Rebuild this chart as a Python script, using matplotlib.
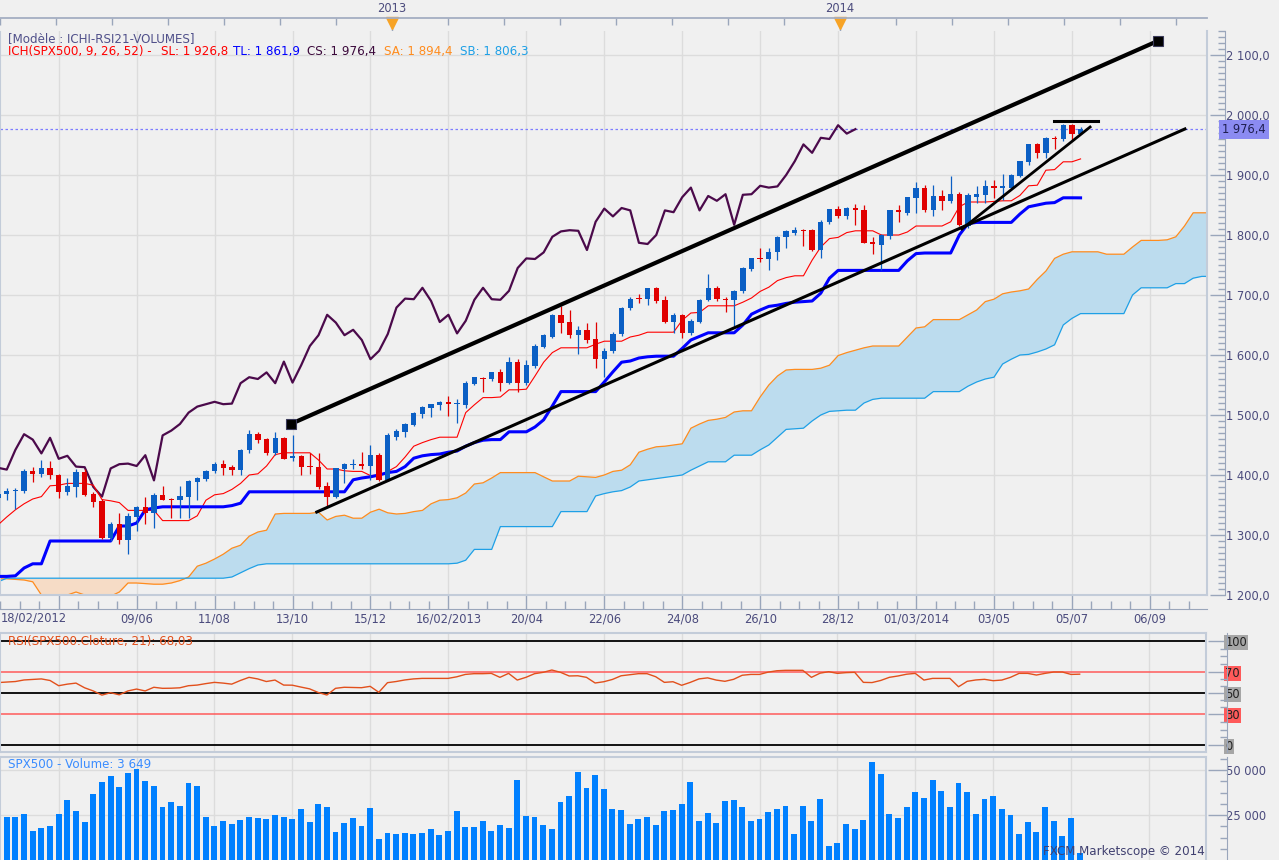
import numpy as np
import matplotlib.pyplot as plt
from matplotlib.ticker import FixedLocator

# weekly bars, week 0 = 18/02/2012 (SPX500 CFD, FXCM)
opens = [1362, 1368, 1373, 1374, 1407, 1402, 1411, 1400, 1372, 1380,
         1405, 1368, 1357, 1295.5, 1318, 1292, 1330, 1347, 1336, 1367,
         1360, 1358, 1364, 1389, 1394, 1407, 1419, 1414, 1409, 1442,
         1468, 1460, 1436, 1462, 1428, 1432, 1415, 1413, 1382, 1364,
         1410, 1417, 1419, 1415, 1433, 1391, 1464, 1472, 1483, 1502,
         1512, 1517, 1522, 1518, 1517, 1552, 1562, 1560, 1572, 1553,
         1589, 1554, 1582, 1614, 1630, 1667, 1655, 1633, 1642, 1627,
         1593, 1607, 1635, 1678, 1694, 1693, 1712, 1692, 1655, 1667,
         1636, 1655, 1692, 1712, 1694, 1692, 1706, 1743, 1761, 1760,
         1771, 1796, 1804, 1808, 1808, 1775, 1821, 1844, 1832, 1845,
         1842, 1789, 1784, 1798, 1841, 1837, 1862, 1879, 1841, 1865,
         1857, 1868, 1815, 1864, 1867, 1882, 1879, 1879, 1898, 1922,
         1951, 1937, 1962, 1960, 1983, 1969]
highs = [1372, 1378, 1378, 1410, 1414, 1425, 1424, 1402, 1395, 1410,
         1410, 1372, 1360, 1321, 1336, 1336, 1348, 1364, 1370, 1382,
         1362, 1382, 1391, 1397, 1408, 1422, 1425, 1416, 1444, 1475,
         1471, 1462, 1472, 1464, 1467, 1434, 1436, 1437, 1389, 1412,
         1420, 1427, 1439, 1450, 1436, 1470, 1476, 1486, 1505, 1515,
         1519, 1524, 1532, 1527, 1557, 1564, 1564, 1572, 1576, 1597,
         1593, 1592, 1618, 1635, 1668, 1682, 1675, 1648, 1653, 1655,
         1612, 1638, 1680, 1696, 1702, 1712, 1714, 1698, 1670, 1669,
         1660, 1693, 1735, 1715, 1697, 1709, 1746, 1761, 1778, 1778,
         1799, 1808, 1814, 1810, 1810, 1825, 1844, 1848, 1846, 1852,
         1850, 1796, 1802, 1841, 1850, 1864, 1889, 1883, 1883, 1875,
         1898, 1871, 1870, 1882, 1891, 1891, 1902, 1901, 1924, 1951,
         1954, 1963, 1965, 1985, 1985, 1980]
lows = [1355, 1358, 1344, 1370, 1389, 1396, 1393, 1361, 1367, 1363,
        1365, 1346, 1293, 1290, 1285, 1268, 1307, 1319, 1312, 1358,
        1328, 1328, 1328, 1358, 1390, 1404, 1400, 1400, 1400, 1437,
        1453, 1434, 1434, 1426, 1424, 1400, 1402, 1377, 1347, 1362,
        1386, 1410, 1410, 1392, 1390, 1390, 1458, 1464, 1481, 1495,
        1497, 1509, 1498, 1486, 1511, 1550, 1539, 1556, 1540, 1551,
        1539, 1550, 1578, 1612, 1628, 1637, 1628, 1601, 1620, 1579,
        1563, 1603, 1632, 1675, 1686, 1684, 1687, 1654, 1637, 1629,
        1634, 1654, 1690, 1690, 1672, 1649, 1704, 1740, 1755, 1742,
        1759, 1779, 1800, 1782, 1774, 1762, 1819, 1828, 1826, 1817,
        1786, 1768, 1741, 1794, 1822, 1834, 1836, 1838, 1832, 1842,
        1853, 1815, 1812, 1853, 1853, 1861, 1858, 1876, 1896, 1916,
        1928, 1929, 1944, 1956, 1956, 1968]
closes = [1368, 1373, 1375, 1407, 1402, 1411, 1400, 1372, 1382, 1405,
          1367, 1355, 1295.5, 1318, 1292, 1332, 1347, 1336, 1367, 1358,
          1359, 1365, 1390, 1395, 1407, 1419, 1412, 1409, 1442, 1468,
          1459, 1436, 1462, 1427, 1432, 1414, 1413, 1380, 1364, 1411,
          1418, 1419, 1415, 1433, 1391, 1466, 1474, 1485, 1504, 1514,
          1518, 1522, 1518, 1519, 1553, 1563, 1560, 1571, 1553, 1589,
          1554, 1583, 1615, 1633, 1667, 1654, 1633, 1642, 1625, 1593,
          1607, 1635, 1679, 1694, 1693, 1712, 1690, 1655, 1667, 1636,
          1657, 1692, 1712, 1693, 1692, 1707, 1745, 1761, 1760, 1771,
          1797, 1806, 1808, 1807, 1775, 1822, 1844, 1831, 1845, 1841,
          1787, 1785, 1800, 1841, 1838, 1863, 1879, 1841, 1865, 1857,
          1868, 1817, 1867, 1868, 1882, 1879, 1881, 1900, 1923, 1951,
          1937, 1962, 1960, 1983, 1969, 1976.4]

# ichimoku lines
tenkan = [1317, 1330, 1342, 1352, 1360, 1364, 1382, 1383, 1386, 1386,
          1386, 1383, 1359, 1357, 1354, 1341, 1341, 1341, 1341, 1324,
          1324, 1324, 1324, 1332, 1358, 1367, 1369, 1376, 1386, 1400,
          1402, 1415, 1434, 1437, 1437, 1437, 1437, 1425, 1410, 1410,
          1407, 1406, 1406, 1399, 1400, 1406, 1414, 1430, 1448, 1454,
          1459, 1463, 1463, 1463, 1504, 1517, 1529, 1529, 1530, 1542,
          1542, 1543, 1565, 1588, 1604, 1612, 1612, 1612, 1612, 1618,
          1623, 1623, 1623, 1630, 1633, 1638, 1638, 1638, 1638, 1658,
          1670, 1671, 1682, 1682, 1682, 1682, 1688, 1695, 1706, 1713,
          1724, 1729, 1732, 1732, 1758, 1780, 1794, 1796, 1804, 1807,
          1807, 1807, 1800, 1800, 1800, 1805, 1815, 1815, 1815, 1815,
          1822, 1847, 1855, 1855, 1855, 1856, 1857, 1857, 1866, 1882,
          1883, 1908, 1909, 1922, 1922, 1926.8]
kijun = [1231, 1231, 1232, 1245, 1252, 1252, 1290, 1290, 1290, 1290,
         1290, 1290, 1290, 1290, 1315, 1315, 1320, 1342, 1345, 1347,
         1347, 1347, 1347, 1347, 1347, 1347, 1347, 1349, 1353, 1372,
         1372, 1372, 1372, 1372, 1372, 1372, 1372, 1372, 1372, 1372,
         1372, 1392, 1395, 1397, 1400, 1404, 1406, 1414, 1428, 1432,
         1434, 1435, 1438, 1440, 1448, 1454, 1458, 1459, 1459, 1472,
         1472, 1472, 1480, 1492, 1515, 1539, 1539, 1539, 1539, 1539,
         1555, 1572, 1588, 1590, 1595, 1597, 1598, 1598, 1598, 1611,
         1625, 1631, 1637, 1637, 1637, 1637, 1650, 1668, 1675, 1681,
         1683, 1686, 1688, 1689, 1690, 1703, 1728, 1741, 1741, 1741,
         1741, 1741, 1741, 1741, 1741, 1757, 1769, 1770, 1770, 1770,
         1770, 1800, 1819, 1821, 1821, 1821, 1821, 1821, 1835, 1847,
         1850, 1853, 1854, 1862, 1862, 1861.9]
senkou_a = [1227, 1227, 1226, 1225, 1222, 1200, 1195, 1195, 1200, 1205,
            1200, 1195, 1195, 1198, 1205, 1220, 1220, 1219, 1218, 1218,
            1220, 1224, 1230, 1248, 1253, 1260, 1268, 1278, 1283, 1298,
            1305, 1308, 1335, 1336, 1336, 1336, 1336, 1338, 1325, 1331,
            1333, 1328, 1328, 1338, 1343, 1337, 1335, 1336, 1339, 1341,
            1352, 1358, 1359, 1362, 1370, 1385, 1387, 1395, 1404, 1404,
            1404, 1404, 1404, 1397, 1390, 1390, 1390, 1398, 1397, 1396,
            1400, 1406, 1408, 1417, 1438, 1443, 1447, 1448, 1450, 1452,
            1478, 1485, 1491, 1493, 1496, 1505, 1507, 1507, 1530, 1550,
            1565, 1575, 1576, 1576, 1576, 1578, 1583, 1599, 1604, 1608,
            1612, 1615, 1615, 1615, 1615, 1630, 1645, 1647, 1659, 1659,
            1659, 1659, 1667, 1675, 1689, 1693, 1702, 1705, 1707, 1710,
            1726, 1740, 1761, 1768, 1772, 1772, 1772, 1772, 1768, 1768,
            1768, 1780, 1791, 1791, 1791, 1792, 1797, 1815, 1837, 1837,
            1837]
senkou_b = [1222, 1228, 1228, 1228, 1228, 1228, 1228, 1228, 1228, 1228,
            1228, 1228, 1228, 1228, 1228, 1228, 1228, 1228, 1228, 1228,
            1228, 1228, 1228, 1228, 1228, 1228, 1228, 1230, 1237, 1244,
            1250, 1252, 1252, 1252, 1252, 1252, 1252, 1252, 1252, 1252,
            1252, 1252, 1252, 1252, 1252, 1252, 1252, 1252, 1252, 1252,
            1252, 1252, 1252, 1253, 1258, 1276, 1276, 1276, 1314, 1314,
            1314, 1314, 1314, 1314, 1314, 1339, 1339, 1339, 1339, 1365,
            1369, 1372, 1374, 1380, 1390, 1392, 1394, 1396, 1398, 1400,
            1408, 1415, 1422, 1422, 1422, 1433, 1433, 1433, 1442, 1450,
            1463, 1476, 1477, 1478, 1490, 1500, 1506, 1507, 1508, 1508,
            1520, 1526, 1528, 1528, 1528, 1528, 1528, 1528, 1539, 1539,
            1539, 1539, 1548, 1555, 1560, 1563, 1585, 1593, 1600, 1601,
            1605, 1610, 1617, 1650, 1661, 1669, 1669, 1669, 1669, 1669,
            1669, 1700, 1712, 1712, 1712, 1712, 1719, 1719, 1728, 1731,
            1731]

rsi = [60, 60.5, 61, 62.5, 63, 63.5, 62, 57, 58.5, 59.5,
       55, 52, 48, 50.3, 48.3, 52, 53.8, 52, 55.5, 54.5,
       54.6, 55, 57, 57.6, 59, 60.2, 59.5, 58.5, 62, 65,
       63.5, 61, 62.4, 57.6, 57.5, 55.7, 54, 50.5, 48.1, 54.5,
       55.5, 55.3, 55.1, 56.4, 50.7, 59.9, 61, 62.5, 63.5, 64,
       64, 64, 64, 65.5, 67.8, 68.5, 68.5, 68.8, 65, 68.8,
       62.4, 65, 68.5, 69.8, 72, 69.8, 66.3, 66.5, 65, 59.6,
       60.8, 63, 66.5, 67.5, 68.5, 68.5, 65.6, 60.2, 60.8, 57.4,
       60.2, 63.5, 64.5, 62.4, 61.2, 63.1, 67, 67.8, 67.8, 70,
       71.3, 71.7, 71.7, 71.7, 65, 69, 70.4, 68.8, 69.5, 69.8,
       60.2, 60, 62, 65, 66.3, 68, 68.8, 62.4, 64, 64,
       64, 56, 61.2, 62.5, 63.1, 61.8, 62.4, 65, 68.8, 68.8,
       67.2, 68.8, 70.1, 70.1, 67.8, 68.03]

volume = [18333, 23889, 23889, 25556, 16111, 17778, 18889, 25556, 33333, 27222,
          21111, 36667, 43333, 46667, 40556, 48333, 50556, 43889, 41111, 29444,
          32222, 30000, 42778, 41111, 23889, 18889, 21667, 20000, 22222, 23889,
          23333, 22778, 25000, 23889, 22778, 28333, 21111, 31111, 29444, 15556,
          20556, 23333, 18889, 28889, 11667, 15000, 14444, 15000, 14444, 15000,
          17222, 13889, 16111, 27222, 18333, 18333, 21667, 16111, 19444, 17778,
          44444, 24444, 23889, 19444, 17222, 32222, 35556, 48889, 40000, 47222,
          39444, 28333, 27778, 20000, 22778, 23889, 19444, 27222, 27778, 31111,
          43333, 21667, 26111, 20556, 32778, 33333, 29444, 21667, 22778, 26667,
          28333, 30000, 14444, 30000, 21667, 33889, 7778, 9444, 20000, 17222,
          22222, 54444, 47778, 25556, 23333, 29444, 37778, 34444, 44444, 38333,
          29444, 42778, 37778, 25556, 33889, 35556, 28333, 25000, 14444, 21111,
          15556, 29444, 21667, 13333, 23333, 3649]

date_ticks = [7, 16, 25, 34, 43, 52, 61, 70, 79, 88, 97, 106, 115, 124, 133]
date_labels = ['', '09/06', '11/08', '13/10', '15/12', '16/02/2013', '20/04',
               '22/06', '24/08', '26/10', '28/12', '01/03/2014', '03/05',
               '05/07', '06/09']
price_ticks = [1200, 1300, 1400, 1500, 1600, 1700, 1800, 1900, 2000, 2100]
price_labels = ['1 200,0', '1 300,0', '1 400,0', '1 500,0', '1 600,0',
                '1 700,0', '1 800,0', '1 900,0', '2 000,0', '2 100,0']
year_weeks = [45, 97]
year_labels = ['2013', '2014']

# drawn trend lines (week, price)
channel_top = ([33.8, 133.9], [1485, 2123.3])
channel_low = ([36.8, 137.05], [1338.3, 1976.7])
steep_line = ([111.3, 126.1], [1810, 1980])
flat_line = ([121.9, 127.0], [1990.5, 1990.5])
last_price = 1976.4

BG = '#f0f0f0'
GRID = '#dcdcdc'
BORDER = '#c3ccd9'
TICKC = '#9aa6bb'
TXT = '#4b4b7d'
FS = 8.3
HFS = 8.6
W, H = 1279, 860
XL = (0.22, 139.6)

o = np.array(opens, float)
h = np.array(highs, float)
l = np.array(lows, float)
c = np.array(closes, float)
wk = np.arange(len(c))
sa = np.array(senkou_a, float)
sb = np.array(senkou_b, float)
cx = np.arange(len(sa))

fig = plt.figure(figsize=(W / 100, H / 100), dpi=100, facecolor=BG)


def px_axes(x0, y0, x1, y1):
    return fig.add_axes([x0 / W, 1 - y1 / H, (x1 - x0) / W, (y1 - y0) / H])


ax = px_axes(0, 31, 1207, 595.3)
rax = px_axes(0, 633, 1206, 751.7)
vax = px_axes(0, 756.7, 1206, 860)
tax = px_axes(0, 18, 1207, 31)

# ---------- main price pane ----------
ax.set_facecolor(BG)
ax.set_xlim(*XL)
ax.set_ylim(1199.5, 2140)
for xv in date_ticks:
    ax.axvline(xv, color=GRID, lw=1, zorder=0)
for yv in price_ticks:
    ax.axhline(yv, color=GRID, lw=1, zorder=0)

ax.fill_between(cx, sa, sb, where=sa >= sb, interpolate=True,
                color='#bcdcee', lw=0, zorder=1)
ax.fill_between(cx, sa, sb, where=sa < sb, interpolate=True,
                color='#f6dcc6', lw=0, zorder=1)
ax.plot(cx, sa, color='#ff8c1e', lw=0.9, zorder=2)
ax.plot(cx, sb, color='#1ea0e6', lw=0.9, zorder=2)

ax.axhline(last_price, color='#7c7cff', lw=0.9, ls=(0, (2, 2)), zorder=2)

ax.plot(wk[26:] - 26, c[26:], color='#4b0a4b', lw=1.6, zorder=3)
ax.plot(wk, tenkan, color='#ff0000', lw=0.8, zorder=3)
ax.plot(wk, kijun, color='#0000ff', lw=2.2, zorder=3)

up = c >= o
cols = np.where(up, '#0b5fc4', '#e00000')
ax.vlines(wk, l, h, colors=cols, lw=0.9, zorder=4)
body = np.maximum(np.abs(c - o), 1.6)
ax.bar(wk, body, bottom=np.minimum(o, c), width=0.62, color=cols, lw=0, zorder=5)

ax.plot(*channel_top, color='black', lw=3.0, zorder=6,
        solid_capstyle='butt')
ax.plot(*channel_top, ls='none', marker='s', ms=7, mfc='black',
        mec='#3a3a5a', mew=0.8, zorder=7)
ax.plot(*channel_low, color='black', lw=2.2, zorder=6)
ax.plot(*steep_line, color='black', lw=2.0, zorder=6)
ax.plot(*flat_line, color='black', lw=2.2, zorder=6)

ax.spines['top'].set_visible(False)
ax.spines['left'].set_color(BORDER)
ax.spines['right'].set_position(('outward', 13))
ax.spines['right'].set_color(TICKC)
ax.spines['bottom'].set_position(('outward', 10))
ax.spines['bottom'].set_color(TICKC)
ax.plot([1, 1], [0, 1], transform=ax.transAxes, color=BORDER, lw=1.5, clip_on=False)
ax.plot([0, 1], [0, 0], transform=ax.transAxes, color=BORDER, lw=1.5, clip_on=False)

ax.yaxis.tick_right()
ax.set_yticks(price_ticks)
ax.set_yticklabels(price_labels)
ax.yaxis.set_minor_locator(FixedLocator(np.arange(1200, 2141, 10)))
ax.tick_params(axis='y', which='major', direction='in', length=11, width=1,
               color=TICKC, labelsize=FS, labelcolor=TXT, pad=0.5)
ax.tick_params(axis='y', which='minor', direction='in', length=5, width=1,
               color=TICKC)
ax.set_xticks(date_ticks)
ax.set_xticklabels(date_labels)
ax.xaxis.set_minor_locator(FixedLocator(np.arange(-2, 140, 2.25)))
ax.tick_params(axis='x', which='major', direction='in', length=10, width=1,
               color=TICKC, labelsize=FS, labelcolor=TXT, pad=2.5)
ax.tick_params(axis='x', which='minor', direction='in', length=6, width=1,
               color=TICKC)

ax.text(1.0125, last_price, '1 976,4', transform=ax.get_yaxis_transform(),
        ha='left', va='center', fontsize=FS, color='#1e1e50', zorder=10,
        clip_on=False,
        bbox=dict(boxstyle='square,pad=0.25', fc='#8b8bf2', ec='none'))

# ---------- top year band ----------
tax.set_xlim(*XL)
tax.set_ylim(0, 1)
tax.patch.set_alpha(0)
for s in ['left', 'right', 'bottom']:
    tax.spines[s].set_visible(False)
tax.spines['top'].set_color('#a4aec2')
tax.spines['top'].set_linewidth(1.3)
tax.xaxis.tick_top()
tax.set_xticks(np.arange(45 - 6.5 * 7, 140, 6.5))
tax.tick_params(axis='x', direction='in', length=5, width=1, color=TICKC,
                labeltop=False)
tax.set_yticks([])
tax.vlines(year_weeks, 0, 0.6, color=TICKC, lw=1)
tax.plot(year_weeks, [0.62, 0.62], ls='none', marker='v', ms=8,
         color='#f7a325', clip_on=False)
for yw, yl in zip(year_weeks, year_labels):
    tax.text(yw, 1.75, yl, ha='center', va='center', fontsize=FS, color=TXT,
             clip_on=False)

# ---------- RSI pane ----------
rax.set_facecolor(BG)
rax.set_xlim(*XL)
rax.set_ylim(-6.1, 107.4)
for xv in date_ticks:
    rax.axvline(xv, color=GRID, lw=1, zorder=0)
for lv, lc in [(100, 'black'), (70, '#ff5a5a'), (50, 'black'), (30, '#ff5a5a'), (0, 'black')]:
    rax.axhline(lv, color=lc, lw=1.3 if lc == 'black' else 1.1, zorder=1)
rax.plot(wk, rsi, color='#e2501c', lw=1.0, zorder=2)
for s in ['left', 'top', 'bottom']:
    rax.spines[s].set_color(BORDER)
    rax.spines[s].set_linewidth(1.5)
rax.spines['right'].set_position(('outward', 15))
rax.spines['right'].set_color(TICKC)
rax.plot([1, 1], [0, 1], transform=rax.transAxes, color=BORDER, lw=1.5, clip_on=False)
rax.yaxis.tick_right()
rax.set_yticks([0, 30, 50, 70, 100])
rax.set_yticklabels(['0', '30', '50', '70', '100'])
rax.yaxis.set_minor_locator(FixedLocator([7.5, 15, 22.5, 36.7, 43.3, 56.7, 63.3, 77.5, 85, 92.5]))
rax.tick_params(axis='y', which='major', direction='in', length=14, width=1,
                color=TICKC, labelsize=FS, labelcolor='#202020', pad=-1)
rax.tick_params(axis='y', which='minor', direction='in', length=5, width=1, color=TICKC)
rax.set_xticks([])
lab_bg = {'0': '#a6a6a6', '30': '#ff5a5a', '50': '#a6a6a6', '70': '#ff5a5a', '100': '#a6a6a6'}
fig.canvas.draw()
for t in rax.get_yticklabels():
    t.set_bbox(dict(boxstyle='square,pad=0.1', fc=lab_bg[t.get_text()], ec='none'))

# ---------- volume pane ----------
vax.set_facecolor(BG)
vax.set_xlim(*XL)
vax.set_ylim(0, 57400)
for xv in date_ticks:
    vax.axvline(xv, color=GRID, lw=1, zorder=0)
for yv in [25000, 50000]:
    vax.axhline(yv, color=GRID, lw=1, zorder=0)
vax.bar(wk, volume, width=0.68, color='#0080ff', lw=0, zorder=2)
for s in ['left', 'top']:
    vax.spines[s].set_color(BORDER)
    vax.spines[s].set_linewidth(1.5)
vax.spines['bottom'].set_visible(False)
vax.spines['right'].set_position(('outward', 15))
vax.spines['right'].set_color(TICKC)
vax.plot([1, 1], [0, 1], transform=vax.transAxes, color=BORDER, lw=1.5, clip_on=False)
vax.yaxis.tick_right()
vax.set_yticks([25000, 50000])
vax.set_yticklabels(['25 000', '50 000'])
vax.yaxis.set_minor_locator(FixedLocator(np.arange(6250, 57400, 6250)))
vax.tick_params(axis='y', which='major', direction='in', length=14, width=1,
                color=TICKC, labelsize=FS, labelcolor=TXT, pad=-0.5)
vax.tick_params(axis='y', which='minor', direction='in', length=5, width=1, color=TICKC)
vax.set_xticks([])


# ---------- header texts ----------
def ftext(x, y, s, color, size=HFS, **kw):
    fig.text(x / W, 1 - y / H, s, color=color, fontsize=size, va='center', **kw)


ftext(8, 39, '[Modèle : ICHI-RSI21-VOLUMES]', '#50508a')
ftext(8, 52, 'ICH(SPX500, 9, 26, 52) -', '#ff0000')
ftext(161, 52, 'SL: 1 926,8', '#ff0000')
ftext(233, 52, 'TL: 1 861,9', '#0000ff')
ftext(307, 52, 'CS: 1 976,4', '#3c0a3c')
ftext(384, 52, 'SA: 1 894,4', '#ff8c1e')
ftext(460, 52, 'SB: 1 806,3', '#1ea0e6')
ftext(1, 618, '18/02/2012', TXT, size=FS)
ftext(8, 641, 'RSI(SPX500.Cloture, 21): 68,03', '#e2501c')
ftext(8, 764, 'SPX500 - Volume: 3 649', '#3a8cff')
ftext(1205, 852, 'FXCM Marketscope © 2014', '#404070')

fig.texts[-1].set_ha('right')

fig.savefig('out.png', dpi=100, facecolor=BG)
